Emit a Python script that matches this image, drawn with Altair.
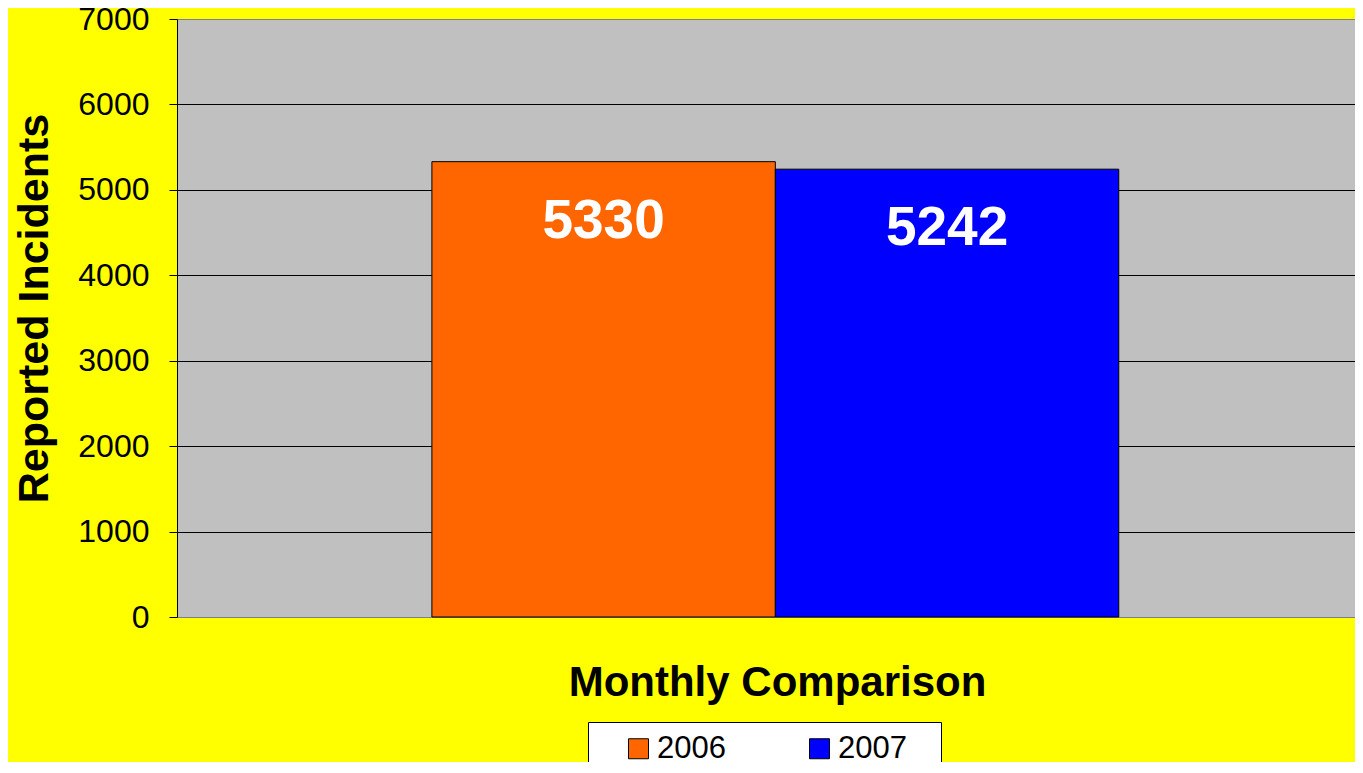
import altair as alt
import pandas as pd

years = ["2006", "2007"]
incidents = [5330, 5242]
bar_colors = ["#FF6600", "#0000FF"]
y_ticks = [0, 1000, 2000, 3000, 4000, 5000, 6000, 7000]

df = pd.DataFrame({"year": years, "incidents": incidents})

FONT = "Liberation Sans"
XSCALE = alt.Scale(domain=years, paddingInner=0, paddingOuter=0.715, align=0.519)
BLANK = "\u2800"

x_enc = alt.X(
    "year:N",
    title="Monthly Comparison",
    scale=XSCALE,
    axis=alt.Axis(
        labels=False, ticks=False, domainColor="#808080", domainWidth=1,
        titleFont=FONT, titleFontSize=42, titleFontWeight="bold", titleColor="black",
        titleX=600, titleY=78, titleAlign="center", titleBaseline="alphabetic",
    ),
)

y_enc = alt.Y(
    "incidents:Q",
    title="Reported Incidents",
    scale=alt.Scale(domain=[0, 7000], nice=False),
    axis=alt.Axis(
        values=y_ticks, format="d", tickSize=8, tickColor="black", domainColor="black",
        labelFont=FONT, labelFontSize=32, labelColor="black", labelPadding=20,
        grid=True,
        gridColor=alt.condition("datum.value == 0 || datum.value == 7000",
                                alt.value("#808080"), alt.value("#000000")),
        gridWidth=1, gridOpacity=1,
        titleFont=FONT, titleFontSize=43, titleFontWeight="bold", titleColor="black",
        titleAngle=270, titleX=-130, titleY=289, titleAlign="center",
        titleBaseline="alphabetic",
    ),
)

bars = alt.Chart(df).mark_bar(stroke="black", strokeWidth=1, opacity=1).encode(
    x=x_enc,
    y=y_enc,
    color=alt.Color(
        "year:N",
        scale=alt.Scale(domain=years, range=bar_colors),
        legend=alt.Legend(
            title=" ", titleOrient="left", titleFontSize=1, titlePadding=24,
            orient="none", legendX=411, legendY=703, direction="horizontal",
            symbolType="square", symbolSize=400, symbolStrokeColor="black",
            symbolStrokeWidth=1, symbolOpacity=1,
            labelFont=FONT, labelFontSize=31, labelColor="black", labelOffset=3,
            columnPadding=78, padding=11, strokeColor="black", fillColor="white",
            labelExpr="datum.label == '2007' ? datum.label + '" + BLANK + "' : datum.label",
        ),
    ),
)

labels = alt.Chart(df).mark_text(
    font=FONT, fontSize=55, fontWeight="bold", color="white",
    baseline="alphabetic", align="center", dy=76,
).encode(
    x=alt.X("year:N", scale=XSCALE),
    y=alt.Y("incidents:Q"),
    text=alt.Text("incidents:Q"),
)

chart = alt.layer(bars, labels).properties(
    width=1178,
    height=598,
    padding={"left": 169, "top": 11, "right": 0, "bottom": 145},
    autosize=alt.AutoSizeParams(type="none"),
    background="#FFFF00",
).configure_view(fill="#C0C0C0", stroke="transparent")

chart.save("out.html", embed_options={"renderer": "svg", "actions": False})
